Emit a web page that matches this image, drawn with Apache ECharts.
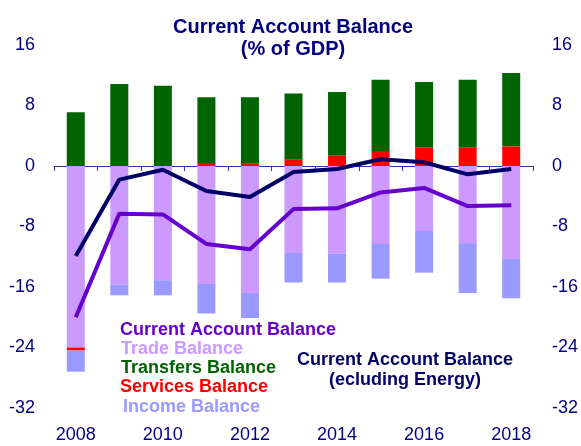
<!DOCTYPE html>
<html>
<head>
<meta charset="utf-8">
<script src="https://cdn.jsdelivr.net/npm/echarts@6/dist/echarts.min.js"></script>
<style>html,body{margin:0;padding:0;background:#fff}#c{width:581px;height:446px}</style>
</head>
<body>
<div id="c"></div>
<script>
var years = ['2008','2009','2010','2011','2012','2013','2014','2015','2016','2017','2018'];
var trade = [-24.0, -15.7, -15.1, -15.6, -16.8, -11.5, -11.6, -10.3, -8.6, -10.2, -12.3];
var services = [-0.4, 0, 0, 0.4, 0.3, 0.9, 1.4, 2.0, 2.4, 2.4, 2.6];
var transfers = [7.1, 10.85, 10.6, 8.7, 8.8, 8.7, 8.4, 9.4, 8.7, 9.0, 9.7];
var income = [-2.8, -1.4, -2.0, -3.9, -3.3, -3.9, -3.8, -4.6, -5.5, -6.6, -5.2];
var currentAccount = [-20.0, -6.3, -6.4, -10.3, -11.0, -5.7, -5.6, -3.5, -2.9, -5.3, -5.2];
var caExEnergy = [-11.9, -1.8, -0.5, -3.3, -4.1, -0.8, -0.4, 0.9, 0.5, -1.1, -0.4];
var yTicks = [-32, -24, -16, -8, 0, 8, 16];

var FONT = '"Liberation Sans", Arial, sans-serif';
var NAVY = '#000080';
var chart = echarts.init(document.getElementById('c'), null, {renderer: 'canvas'});

function barSeries(name, data, color) {
  return {
    name: name, type: 'bar', stack: 'ca', data: data, barWidth: 18,
    xAxisIndex: 0, yAxisIndex: 0,
    itemStyle: {color: color},
    emphasis: {disabled: true}, animation: false
  };
}
function lineSeries(name, data, color) {
  return {
    name: name, type: 'line', data: data, xAxisIndex: 0, yAxisIndex: 0,
    symbol: 'none', lineStyle: {color: color, width: 4}, z: 5, animation: false
  };
}
function legendText(text, x, y, color, align) {
  return {
    type: 'text', x: x, y: y, z: 100,
    style: {text: text, fill: color, font: 'bold 18px ' + FONT, align: align || 'left', verticalAlign: 'middle'}
  };
}
var yAxisCommon = {
  type: 'value', min: yTicks[0], max: yTicks[yTicks.length - 1], interval: 8,
  splitLine: {show: false}, axisLine: {show: false}, axisTick: {show: false}
};
chart.setOption({
  animation: false,
  title: {
    text: 'Current Account Balance\n(% of GDP)', left: 288, top: 11, textAlign: 'center',
    textStyle: {fontFamily: FONT, fontSize: 20, fontWeight: 'bold', color: NAVY, lineHeight: 22}
  },
  grid: {left: 54, right: 48, top: 45, bottom: 38},
  xAxis: [
    {type: 'category', data: years, position: 'bottom',
     axisLine: {onZero: true, lineStyle: {color: '#333399', width: 1}},
     axisTick: {show: true, interval: 0, length: 5, lineStyle: {color: '#333399'}},
     axisLabel: {show: false}},
    {type: 'category', data: years, position: 'bottom',
     axisLine: {show: false, onZero: false}, axisTick: {show: false},
     axisLabel: {interval: 1, fontFamily: FONT, fontSize: 18, color: NAVY, margin: 18}}
  ],
  yAxis: [
    Object.assign({}, yAxisCommon, {position: 'left',
      axisLabel: {fontFamily: FONT, fontSize: 18, color: NAVY, margin: 19}}),
    Object.assign({}, yAxisCommon, {position: 'right',
      axisLabel: {fontFamily: FONT, fontSize: 18, color: NAVY, margin: 19}})
  ],
  series: [
    barSeries('Trade Balance', trade, '#cc99ff'),
    barSeries('Services Balance', services, '#ff0000'),
    barSeries('Transfers Balance', transfers, '#006400'),
    barSeries('Income Balance', income, '#9999ff'),
    lineSeries('Current Account Balance', currentAccount, '#6600cc'),
    lineSeries('Current Account Balance (ecluding Energy)', caExEnergy, '#000066')
  ],
  graphic: [
    legendText('Current Account Balance', 120, 330, '#6600cc'),
    legendText('Trade Balance', 121, 349, '#cc99ff'),
    legendText('Transfers Balance', 121, 368, '#006400'),
    legendText('Services Balance', 120, 387, '#ff0000'),
    legendText('Income Balance', 123, 407, '#9999ff'),
    legendText('Current Account Balance', 405, 360, '#000066', 'center'),
    legendText('(ecluding Energy)', 405, 380, '#000066', 'center')
  ]
});
</script>
</body>
</html>
